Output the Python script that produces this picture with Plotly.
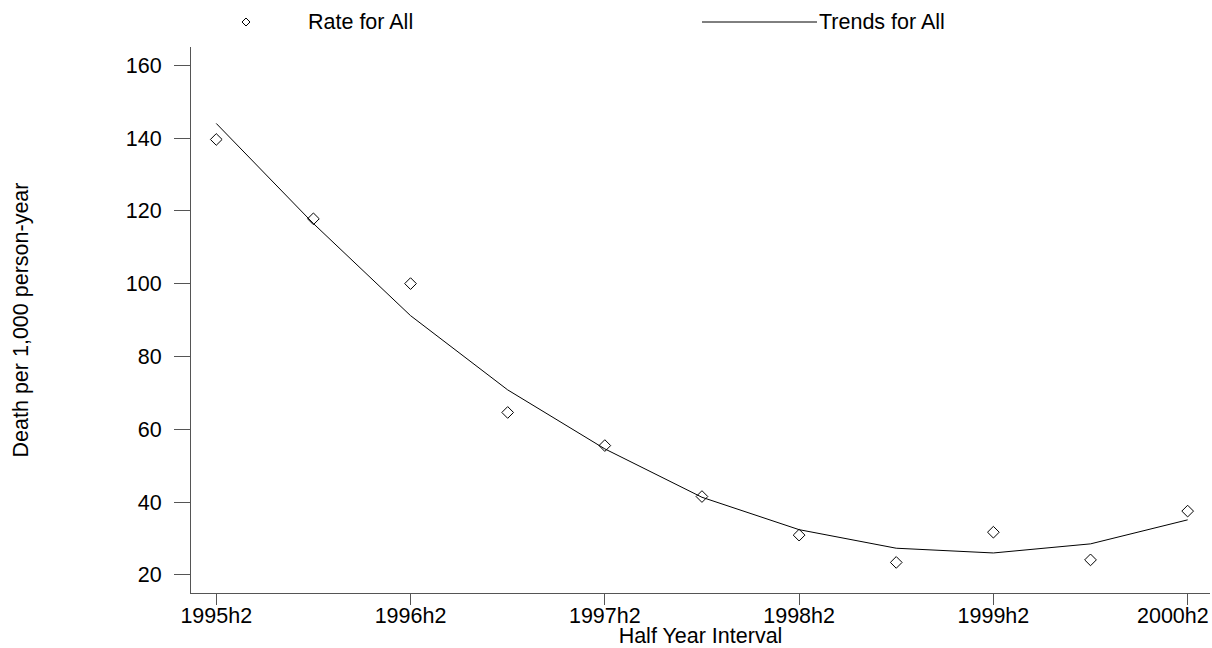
import plotly.graph_objects as go

periods = ["1995h2", "1996h1", "1996h2", "1997h1", "1997h2", "1998h1",
           "1998h2", "1999h1", "1999h2", "2000h1", "2000h2"]
rate_all = [139.6, 117.8, 100.0, 64.6, 55.5, 41.5, 30.9, 23.4, 31.7, 24.1, 37.5]
trend_all = [144.0, 116.5, 91.2, 70.8, 54.6, 41.3, 32.4, 27.3, 26.0, 28.5, 35.1]
tick_labels = ["1995h2", "1996h2", "1997h2", "1998h2", "1999h2", "2000h2"]

FONT = "Liberation Sans, Arial, sans-serif"
FS = 21.5
AXC = "#555555"

fig = go.Figure()
fig.add_trace(go.Scatter(
    x=periods, y=trend_all, mode="lines", name="Trends for All",
    line=dict(color="black", width=1), showlegend=False))
fig.add_trace(go.Scatter(
    x=periods, y=rate_all, mode="markers", name="Rate for All",
    marker=dict(symbol="diamond-open", size=9, color="black",
                line=dict(color="black", width=1)), showlegend=False))

# plot area in pixels: x 191..1210, y 46.7..592.7
L, R, T, B = 191, 1210, 47, 593
W, H = 1212, 648

def px_to_paper(xp, yp):
    return (xp - L) / (R - L), 1 - (yp - T) / (B - T)

shapes = []
annotations = []
# legend: diamond + "Rate for All"
dx, dy = px_to_paper(246, 22)
shapes.append(dict(type="path", xref="paper", yref="paper",
                   xsizemode="pixel", ysizemode="pixel", xanchor=dx, yanchor=dy,
                   path="M -4,0 L 0,4 L 4,0 L 0,-4 Z",
                   line=dict(color="black", width=1), fillcolor="white"))
tx, ty = px_to_paper(306, 22)
annotations.append(dict(text="Rate for All", xref="paper", yref="paper", x=tx, y=ty,
                        xanchor="left", yanchor="middle", showarrow=False,
                        font=dict(family=FONT, size=FS, color="black")))
# legend: line + "Trends for All"
x0, y0 = px_to_paper(702, 22)
x1, _ = px_to_paper(817, 22)
shapes.append(dict(type="line", xref="paper", yref="paper", x0=x0, x1=x1, y0=y0, y1=y0,
                   line=dict(color="black", width=1)))
tx2, _ = px_to_paper(817, 22)
annotations.append(dict(text="Trends for All", xref="paper", yref="paper", x=tx2, y=ty,
                        xanchor="left", yanchor="middle", showarrow=False,
                        font=dict(family=FONT, size=FS, color="black")))
# last tick label kept inside the page (shifted left like the reference)
lx, ly = px_to_paper(1211, 616)
annotations.append(dict(text=tick_labels[-1], xref="paper", yref="paper", x=lx, y=ly,
                        xanchor="right", yanchor="middle", showarrow=False,
                        font=dict(family=FONT, size=FS, color="black")))
shown_ticktext = tick_labels[:-1] + [""]

fig.update_layout(
    width=W, height=H,
    margin=dict(l=L, r=W - R, t=T, b=H - B, pad=0),
    plot_bgcolor="white", paper_bgcolor="white",
    font=dict(family=FONT, size=FS, color="black"),
    shapes=shapes, annotations=annotations,
    showlegend=False,
)
fig.update_xaxes(
    type="category", categoryorder="array", categoryarray=periods,
    range=[-0.26, 10.23],
    tickmode="array", tickvals=tick_labels, ticktext=shown_ticktext,
    ticks="outside", ticklen=11, tickcolor=AXC, tickwidth=1,
    showline=True, linecolor=AXC, linewidth=1, showgrid=False, zeroline=False,
    tickfont=dict(family=FONT, size=FS, color="black"),
    ticklabelstandoff=-8,
    title=dict(text="Half Year Interval", standoff=0,
               font=dict(family=FONT, size=FS, color="black")),
    automargin=False,
)
fig.update_yaxes(
    range=[15, 165], tickvals=[20, 40, 60, 80, 100, 120, 140, 160],
    ticks="outside", ticklen=16, tickcolor=AXC, tickwidth=1,
    showline=True, linecolor=AXC, linewidth=1, showgrid=False, zeroline=False,
    tickfont=dict(family=FONT, size=FS, color="black"),
    ticklabelstandoff=8,
    title=dict(text="Death per 1,000 person-year", standoff=91,
               font=dict(family=FONT, size=FS, color="black")),
    automargin=False,
)

fig.write_html("out.html", config={"displayModeBar": False},
               post_script="document.body.style.margin='0px';")
